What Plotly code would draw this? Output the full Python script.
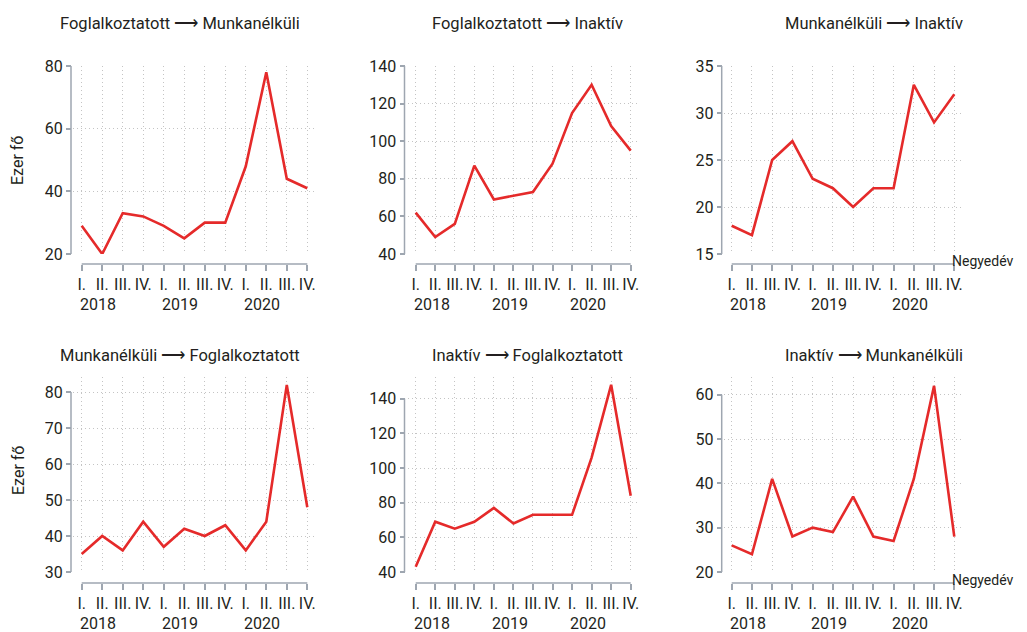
import plotly.graph_objects as go

W, H = 1027, 632
OFF = 8  # the page body margin shifts the figure by this many pixels

quarters = ["I.", "II.", "III.", "IV."] * 3
years = ["2018", "2019", "2020"]

titles = [
    "Foglalkoztatott ⟶ Munkanélküli",
    "Foglalkoztatott ⟶ Inaktív",
    "Munkanélküli ⟶ Inaktív",
    "Munkanélküli ⟶ Foglalkoztatott",
    "Inaktív ⟶ Foglalkoztatott",
    "Inaktív ⟶ Munkanélküli",
]

fog_munk = [29, 20, 33, 32, 29, 25, 30, 30, 48, 78, 44, 41]
fog_inakt = [62, 49, 56, 87, 69, 71, 73, 88, 115, 130, 108, 95]
munk_inakt = [18, 17, 25, 27, 23, 22, 20, 22, 22, 33, 29, 32]
munk_fog = [35, 40, 36, 44, 37, 42, 40, 43, 36, 44, 82, 48]
inakt_fog = [43, 69, 65, 69, 77, 68, 73, 73, 73, 106, 148, 84]
inakt_munk = [26, 24, 41, 28, 30, 29, 37, 28, 27, 41, 62, 28]

series = [fog_munk, fog_inakt, munk_inakt, munk_fog, inakt_fog, inakt_munk]

yticks = [
    [20, 40, 60, 80],
    [40, 60, 80, 100, 120, 140],
    [15, 20, 25, 30, 35],
    [30, 40, 50, 60, 70, 80],
    [40, 60, 80, 100, 120, 140],
    [20, 30, 40, 50, 60],
]
yranges = [[20, 80], [40, 140], [15, 35], [30, 84.2], [40, 152.5], [20, 64]]

FONT = "Roboto, Liberation Sans, Arial, sans-serif"
TXT = "#231f20"
RED = "#e52a2a"
AX = "#9ea6b0"
GRID = "#c4c4c4"


def fx(px):
    return (px - OFF) / W


def fy(py):
    return 1 - (py - OFF) / H


col_x0 = [81.7, 415.7, 731.7]
col_x11 = [307.3, 630.7, 954.3]
col_yline = [71.0, 404.5, 721.7]
row_dom = [(254, 66), (572, 377)]
row_xline = [264, 583]
title_cx = [180, 527, 874]
title_cy = [23, 355]
XR = [-0.4, 11.4]

fig = go.Figure()
layout = dict(
    width=W, height=H, autosize=False,
    margin=dict(l=0, r=0, t=0, b=0, pad=0),
    plot_bgcolor="white", paper_bgcolor="white",
    showlegend=False,
    font=dict(family=FONT, size=16, color=TXT),
)
annotations = []
shapes = []

for i in range(6):
    r, c = divmod(i, 3)
    n = i + 1
    xa = "x" if n == 1 else f"x{n}"
    ya = "y" if n == 1 else f"y{n}"
    ppu = (col_x11[c] - col_x0[c]) / 11
    left = col_x0[c] + XR[0] * ppu
    right = col_x0[c] + XR[1] * ppu
    bpx, tpx = row_dom[r]
    fig.add_trace(go.Scatter(
        x=list(range(12)), y=series[i], mode="lines",
        line=dict(color=RED, width=2.6), xaxis=xa, yaxis=ya,
        hoverinfo="skip",
    ))
    layout["xaxis" if n == 1 else f"xaxis{n}"] = dict(
        domain=[fx(left), fx(right)], range=XR,
        anchor="free", position=fy(row_xline[r]),
        tickvals=list(range(12)), ticktext=quarters,
        ticks="outside", ticklen=6, tickwidth=1.5, tickcolor=AX,
        showline=False, zeroline=False, automargin=False,
        showgrid=True, gridcolor=GRID, griddash="1px,3px", gridwidth=1,
        tickfont=dict(family=FONT, size=16, color=TXT),
        fixedrange=True,
    )
    layout["yaxis" if n == 1 else f"yaxis{n}"] = dict(
        domain=[fy(bpx), fy(tpx)], range=yranges[i],
        anchor="free", position=fx(col_yline[c]),
        tickvals=yticks[i],
        ticks="outside", ticklen=5, tickwidth=1.5, tickcolor=AX,
        showline=False, zeroline=False, automargin=False,
        showgrid=True, gridcolor=GRID, griddash="1px,3px", gridwidth=1,
        tickfont=dict(family=FONT, size=16, color=TXT),
        fixedrange=True,
    )
    shapes.append(dict(type="line", xref="paper", yref=ya,
                       x0=fx(col_yline[c]), x1=fx(col_yline[c]),
                       y0=yticks[i][0], y1=yticks[i][-1],
                       line=dict(color=AX, width=1.5)))
    shapes.append(dict(type="line", xref=xa, yref="paper",
                       x0=0, x1=11,
                       y0=fy(row_xline[r]), y1=fy(row_xline[r]),
                       line=dict(color=AX, width=1.5)))
    for k, yr in enumerate(years):
        annotations.append(dict(
            text=yr, xref=xa, yref="paper", x=4 * k, y=fy(row_xline[r] + 40),
            xanchor="left", yanchor="middle", xshift=-4,
            showarrow=False, font=dict(family=FONT, size=16, color=TXT)))
    annotations.append(dict(
        text=titles[i], xref="paper", yref="paper",
        x=fx(title_cx[c]), y=fy(title_cy[r]),
        xanchor="center", yanchor="middle", showarrow=False,
        font=dict(family=FONT, size=16.5, color=TXT)))
    if c == 0:
        annotations.append(dict(
            text="Ezer fő", xref="paper", yref="paper",
            x=fx(18), y=fy(161 if r == 0 else 471),
            xanchor="center", yanchor="middle", textangle=-90,
            showarrow=False, font=dict(family=FONT, size=16, color=TXT)))
    if c == 2:
        annotations.append(dict(
            text="Negyedév", xref="paper", yref="paper",
            x=fx(1015), y=fy(row_xline[r] - 3),
            xanchor="right", yanchor="middle",
            showarrow=False, font=dict(family=FONT, size=14, color=TXT)))

layout["annotations"] = annotations
layout["shapes"] = shapes
fig.update_layout(**layout)
fig.write_html("out.html", config={"displayModeBar": False})
